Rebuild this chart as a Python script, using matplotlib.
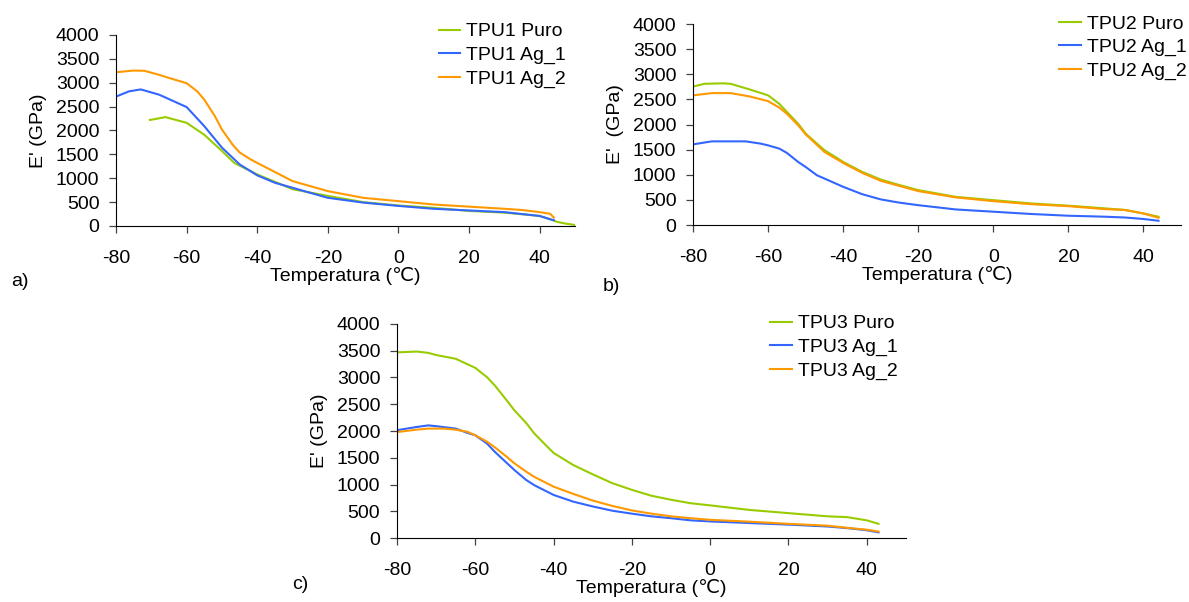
import matplotlib
matplotlib.use("Agg")
import matplotlib.pyplot as plt

plt.rcParams["font.family"] = ["Liberation Sans", "DejaVu Sans"]
plt.rcParams["font.size"] = 14
plt.rcParams["axes.unicode_minus"] = False

GREEN = "#99cc00"
BLUE = "#3366ff"
ORANGE = "#ff9900"

# ---- panel a) TPU1 ----
t1_puro = [-70.4, -66, -60, -55, -50, -46.5, -40, -30, -20, -10, 0, 10, 20, 30, 40, 43, 45, 47, 50, 51]
e1_puro = [2220, 2280, 2160, 1910, 1570, 1320, 1080, 770, 630, 500, 430, 380, 315, 280, 210, 140, 85, 55, 20, 10]
t1_ag1 = [-80, -76.3, -73, -67.8, -60, -55, -50, -45, -40, -35, -30, -20, -10, 0, 10, 20, 30, 40, 43, 44]
e1_ag1 = [2710, 2820, 2860, 2750, 2490, 2090, 1640, 1290, 1060, 905, 800, 590, 490, 420, 360, 325, 290, 210, 140, 120]
t1_ag2 = [-80, -75, -72, -68, -65, -60, -57, -55, -52, -50, -47, -45, -42, -40, -35, -30, -25, -20, -10, 0, 10, 20, 30, 35, 40, 43, 44]
e1_ag2 = [3220, 3255, 3250, 3170, 3100, 2990, 2820, 2645, 2300, 2020, 1705, 1540, 1400, 1320, 1130, 940, 835, 730, 590, 520, 450, 405, 360, 335, 290, 255, 175]

# ---- panel b) TPU2 ----
t2_puro = [-80, -77, -72, -70, -65, -60, -57, -55, -52, -50, -47, -45, -40, -35, -30, -25, -20, -10, 0, 10, 20, 30, 35, 40, 44]
e2_puro = [2755, 2810, 2820, 2810, 2700, 2580, 2410, 2250, 2015, 1820, 1620, 1490, 1255, 1060, 905, 795, 695, 560, 495, 430, 385, 330, 300, 230, 165]
t2_ag1 = [-80, -75, -70, -66, -62, -60, -57, -55, -52, -50, -47, -45, -40, -35, -30, -25, -20, -10, 0, 10, 20, 30, 35, 40, 44]
e2_ag1 = [1605, 1665, 1665, 1665, 1620, 1585, 1520, 1435, 1255, 1155, 990, 925, 760, 615, 510, 445, 395, 310, 265, 220, 185, 165, 150, 120, 85]
t2_ag2 = [-80, -75, -70, -65, -60, -57, -55, -52, -50, -45, -40, -35, -30, -20, -10, 0, 10, 20, 30, 35, 40, 44]
e2_ag2 = [2580, 2625, 2625, 2560, 2465, 2335, 2215, 1985, 1805, 1455, 1235, 1040, 880, 675, 550, 475, 415, 375, 315, 300, 230, 145]

# ---- panel c) TPU3 ----
t3_puro = [-80, -75, -72, -70, -65, -60, -57, -55, -52, -50, -47, -45, -42, -40, -35, -30, -25, -20, -15, -10, -5, 0, 10, 20, 30, 35, 40, 43]
e3_puro = [3470, 3485, 3460, 3420, 3350, 3180, 3005, 2850, 2575, 2385, 2150, 1960, 1735, 1590, 1365, 1190, 1025, 900, 790, 715, 650, 610, 525, 465, 405, 390, 330, 265]
t3_ag1 = [-80, -75, -72, -70, -65, -62, -60, -57, -55, -52, -50, -47, -45, -40, -35, -30, -25, -20, -15, -10, -5, 0, 10, 20, 30, 35, 40, 43]
e3_ag1 = [2015, 2075, 2105, 2090, 2045, 1965, 1920, 1765, 1610, 1405, 1270, 1085, 990, 805, 680, 590, 510, 455, 405, 370, 330, 310, 280, 250, 215, 185, 145, 105]
t3_ag2 = [-80, -75, -72, -68, -65, -62, -60, -57, -55, -52, -50, -47, -45, -40, -35, -30, -25, -20, -15, -10, -5, 0, 10, 20, 30, 35, 40, 43]
e3_ag2 = [1980, 2025, 2045, 2045, 2025, 1985, 1920, 1800, 1695, 1520, 1395, 1240, 1145, 960, 825, 700, 600, 515, 455, 405, 370, 340, 305, 265, 230, 190, 155, 120]

X_TICKS = [-80, -60, -40, -20, 0, 20, 40]
Y_TICKS = list(range(0, 4001, 500))

# (axes rect, tag, tag position, y label, curves, legend anchor in figure coords)
panels = [
    ([0.0976, 0.6246, 0.3860, 0.3173], "a)", (0.009, 0.525), "E' (GPa)",
     [(t1_puro, e1_puro, GREEN, "TPU1 Puro"), (t1_ag1, e1_ag1, BLUE, "TPU1 Ag_1"),
      (t1_ag2, e1_ag2, ORANGE, "TPU1 Ag_2")], (0.369, 0.962)),
    ([0.5829, 0.6262, 0.4104, 0.3339], "b)", (0.507, 0.517), "E'  (GPa)",
     [(t2_puro, e2_puro, GREEN, "TPU2 Puro"), (t2_ag1, e2_ag1, BLUE, "TPU2 Ag_1"),
      (t2_ag2, e2_ag2, ORANGE, "TPU2 Ag_2")], (0.891, 0.975)),
    ([0.3339, 0.1063, 0.4280, 0.3555], "c)", (0.246, 0.022), "E' (GPa)",
     [(t3_puro, e3_puro, GREEN, "TPU3 Puro"), (t3_ag1, e3_ag1, BLUE, "TPU3 Ag_1"),
      (t3_ag2, e3_ag2, ORANGE, "TPU3 Ag_2")], (0.648, 0.477)),
]

fig = plt.figure(figsize=(11.89, 6.02), dpi=100)

for rect, tag, tag_pos, ylab, series, leg_pos in panels:
    ax = fig.add_axes(rect)
    for t, e, c, lab in series:
        ax.plot(t, e, color=c, lw=1.5, label=lab)
    ax.set_xlim(-80, 50)
    ax.set_ylim(0, 4000)
    ax.set_xticks(X_TICKS)
    ax.set_yticks(Y_TICKS)
    ax.spines["top"].set_visible(False)
    ax.spines["right"].set_visible(False)
    ax.tick_params(direction="out", length=5, width=0.9, color="#444444")
    ax.tick_params(axis="x", pad=12)
    ax.tick_params(axis="y", pad=7)
    ax.set_xlabel("Temperatura (℃)", labelpad=0)
    ax.set_ylabel(ylab, labelpad=6)
    ax.legend(loc="upper left", bbox_to_anchor=leg_pos, bbox_transform=fig.transFigure,
              frameon=False, handlelength=1.1, handletextpad=0.3, labelspacing=0.3,
              borderaxespad=0, borderpad=0)
    fig.text(tag_pos[0], tag_pos[1], tag, fontsize=14)

fig.savefig("out.png", dpi=100)
